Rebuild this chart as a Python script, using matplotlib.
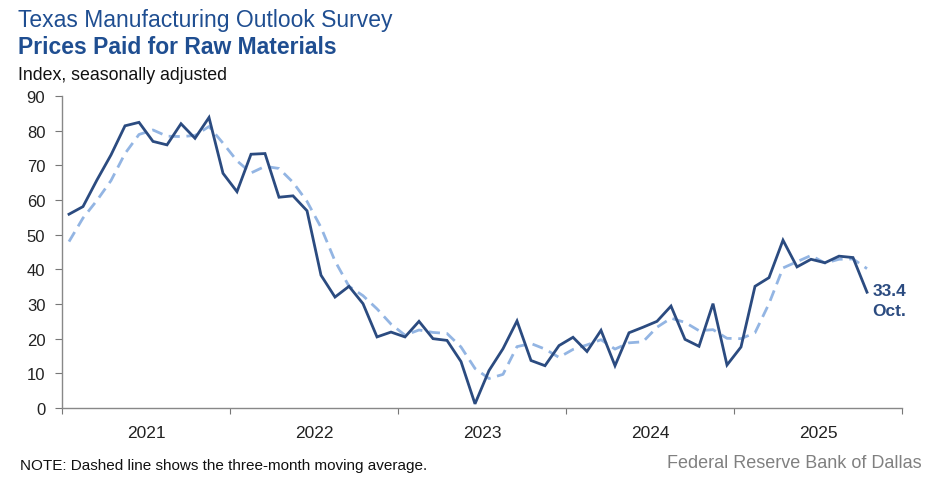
import matplotlib
matplotlib.use("Agg")
import matplotlib.pyplot as plt

plt.rcParams['font.family'] = ['Liberation Sans', 'DejaVu Sans']

# Monthly data Jan 2021 - Oct 2025
years = ["2021", "2022", "2023", "2024", "2025"]
prices = [
    55.9, 58.1, 65.8, 73.0, 81.4, 82.4, 76.9, 75.9, 82.0, 77.8, 83.8, 67.7,   # 2021
    62.4, 73.2, 73.4, 60.8, 61.2, 56.9, 38.3, 32.0, 35.1, 30.1, 20.5, 21.9,   # 2022
    20.5, 25.0, 20.0, 19.5, 13.4, 1.2, 10.8, 17.1, 25.1, 13.7, 12.2, 18.0,    # 2023
    20.4, 16.3, 22.4, 12.2, 21.7, 23.3, 25.0, 29.4, 19.8, 17.8, 30.1, 12.4,   # 2024
    17.6, 35.1, 37.6, 48.4, 40.7, 42.9, 41.9, 43.8, 43.4, 33.4,               # 2025
]
moving_avg = [
    48.0, 54.8, 59.9, 65.6, 73.4, 78.9, 80.2, 78.4, 78.3, 78.6, 81.2, 76.4,
    71.3, 67.8, 69.7, 69.1, 65.1, 59.6, 52.1, 42.4, 35.1, 32.4, 28.6, 24.2,
    21.0, 22.5, 21.8, 21.5, 17.6, 11.4, 8.5, 9.7, 17.7, 18.6, 17.0, 14.6,
    16.9, 18.2, 19.7, 17.0, 18.8, 19.1, 23.3, 25.9, 24.7, 22.3, 22.6, 20.1,
    20.0, 21.7, 30.1, 40.4, 42.2, 44.0, 41.8, 42.9, 43.0, 40.2,
]
yticks = [0, 10, 20, 30, 40, 50, 60, 70, 80, 90]
last_label = "33.4"
last_month = "Oct."

solid_color = "#2B4B80"
dash_color = "#93B5E3"
title_color = "#1F4E91"

fig = plt.figure(figsize=(9.44, 4.85), dpi=100)
ax = fig.add_axes([62 / 944, 76 / 485, (902 - 62) / 944, (409 - 97) / 485])

x = list(range(len(prices)))
ax.plot(x, moving_avg, color=dash_color, lw=2.0, dashes=(4, 2.4), solid_capstyle='butt')
ax.plot(x, prices, color=solid_color, lw=2.0, solid_joinstyle='miter')

n_months = 12 * len(years)
ax.set_xlim(-0.5, n_months - 0.5)
ax.set_ylim(0, 90)
ax.set_yticks(yticks)
ax.set_yticklabels([str(t) for t in yticks])

major = [-0.5 + 12 * i for i in range(len(years) + 1)]
ax.set_xticks(major)
ax.set_xticklabels([""] * len(major))
ax.set_xticks([5.5 + 12 * i for i in range(len(years))], minor=True)
ax.set_xticklabels(years, minor=True)
ax.tick_params(axis='x', which='minor', length=0, pad=12, labelsize=12.5, labelcolor="#222222")
ax.tick_params(axis='x', which='major', direction='out', length=4, color="#777777")
ax.tick_params(axis='y', direction='out', length=5, color="#777777", pad=7,
               labelsize=12, labelcolor="#222222")

for s in ['top', 'right']:
    ax.spines[s].set_visible(False)
for s in ['left', 'bottom']:
    ax.spines[s].set_color("#888888")
    ax.spines[s].set_linewidth(1.0)

# end annotation
ax.annotate(last_label, xy=(x[-1], prices[-1]), xytext=(4, 1), textcoords='offset points',
            ha='left', va='center', fontsize=12.5, fontweight='bold', color=solid_color)
ax.annotate(last_month, xy=(x[-1], prices[-1]), xytext=(4, -13), textcoords='offset points',
            ha='left', va='center', fontsize=12.5, fontweight='bold', color=solid_color)

fig.text(18 / 944, 1 - 20 / 485, "Texas Manufacturing Outlook Survey", ha='left', va='center',
         fontsize=16.5, color=title_color)
fig.text(18 / 944, 1 - 48 / 485, "Prices Paid for Raw Materials", ha='left', va='center',
         fontsize=16.5, fontweight='bold', color=title_color)
fig.text(18 / 944, 1 - 75 / 485, "Index, seasonally adjusted", ha='left', va='center',
         fontsize=12.8, color="#111111")
fig.text(20 / 944, 1 - 466 / 485, "NOTE: Dashed line shows the three-month moving average.",
         ha='left', va='center', fontsize=11, color="#111111")
fig.text(922 / 944, 1 - 464 / 485, "Federal Reserve Bank of Dallas", ha='right', va='center',
         fontsize=13, color="#808080")

fig.savefig("out.png", dpi=100)
